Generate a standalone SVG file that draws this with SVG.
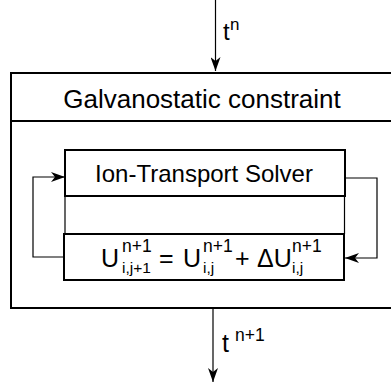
<svg xmlns="http://www.w3.org/2000/svg" width="391" height="387" viewBox="0 0 391 387">
<defs>
<marker id="ah" viewBox="0 0 14 10" refX="14" refY="5" markerWidth="14" markerHeight="10" markerUnits="userSpaceOnUse" orient="auto">
<path d="M0,0 L14,5 L0,10 L4,5 Z" fill="#000"/>
</marker>
</defs>
<style>
.box{fill:#fff;stroke:#000;stroke-width:2}
.thin{fill:none;stroke:#000;stroke-width:1.2}
.con{fill:none;stroke:#000;stroke-width:1.2;marker-end:url(#ah)}
text{font-family:"Liberation Sans",Arial,sans-serif;fill:#000}
.big{font-size:24px}
.eq{font-size:25px}
.sup{font-size:17.5px}
.sub{font-size:15.5px}
</style>
<g id="outer">
<rect class="box" x="11" y="73" width="384" height="235"/>
<line x1="11" y1="121" x2="395" y2="121" stroke="#000" stroke-width="2"/>
<text x="202" y="108" text-anchor="middle" style="font-size:26px">Galvanostatic constraint</text>
</g>
<g id="links-thin">
<line class="thin" x1="65" y1="196" x2="65" y2="234"/>
<line class="thin" x1="344.5" y1="196" x2="344.5" y2="234"/>
</g>
<g id="solver">
<rect class="box" x="65" y="150" width="280" height="46"/>
<text class="big" x="204" y="182" text-anchor="middle">Ion-Transport Solver</text>
</g>
<g id="update">
<rect class="box" x="64" y="234" width="280" height="46"/>
<text class="eq" x="101" y="267">U</text>
<text class="sup" x="122" y="252">n+1</text>
<text class="sub" x="122" y="273">i,j+1</text>
<text class="eq" x="159" y="267">=</text>
<text class="eq" x="183" y="267">U</text>
<text class="sup" x="203" y="252">n+1</text>
<text class="sub" x="203" y="273">i,j</text>
<text class="eq" x="235" y="267">+</text>
<text class="eq" x="257" y="267">ΔU</text>
<text class="sup" x="292" y="252">n+1</text>
<text class="sub" x="292" y="273">i,j</text>
</g>
<g id="connectors">
<line class="con" x1="215.5" y1="0" x2="215.5" y2="71"/>
<line class="con" x1="213" y1="309" x2="213" y2="382"/>
<polyline class="con" points="64,257 33,257 33,177 65,177"/>
<polyline class="con" points="345,178 377,178 377,258 345,258"/>
</g>
<g id="labels">
<text class="big" x="223" y="40">t</text>
<text style="font-size:17px" x="230" y="30">n</text>
<text class="big" style="font-size:25px" x="222" y="352">t</text>
<text class="sup" x="235" y="341">n+1</text>
</g>
</svg>
